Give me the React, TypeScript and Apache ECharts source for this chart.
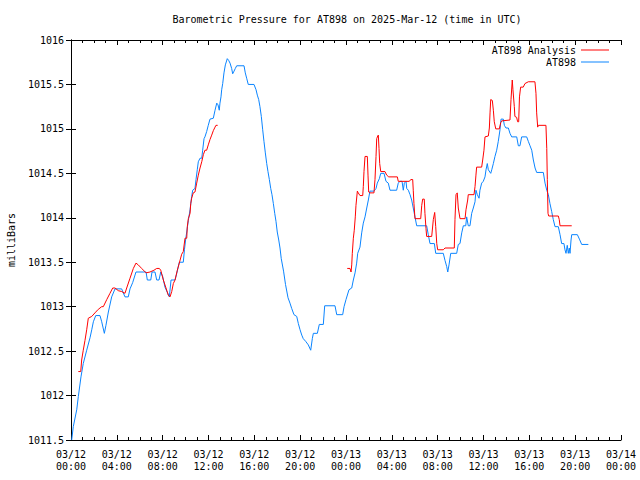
import React, { useEffect, useRef } from "react";
import * as echarts from "echarts";

// hours since 2025-03-12 00:00 UTC, pressure in mb
const at898Obs: [number, number][] = [
  [0.06, 1011.5], [0.2, 1011.65], [0.5, 1011.84], [0.64, 1011.99], [0.87, 1012.21], [1.07, 1012.36],
  [1.37, 1012.51], [1.66, 1012.65], [1.81, 1012.74], [1.95, 1012.83], [2.16, 1012.9], [2.53, 1012.9],
  [2.68, 1012.83], [2.91, 1012.7], [3.05, 1012.79], [3.26, 1012.94], [3.55, 1013.11], [3.84, 1013.2],
  [4.42, 1013.2], [4.71, 1013.11], [5.0, 1013.11], [5.15, 1013.2], [5.38, 1013.27], [5.67, 1013.39],
  [6.55, 1013.39], [6.66, 1013.3], [6.96, 1013.3], [7.07, 1013.39], [7.33, 1013.39], [7.48, 1013.3],
  [7.68, 1013.3], [7.83, 1013.39], [8.0, 1013.34], [8.2, 1013.22], [8.58, 1013.11], [8.73, 1013.3],
  [9.08, 1013.3], [9.22, 1013.37], [9.45, 1013.5], [9.8, 1013.5], [9.9, 1013.64], [10.0, 1013.75],
  [10.1, 1013.84], [10.24, 1013.97], [10.39, 1014.09], [10.53, 1014.24], [10.62, 1014.31], [10.82, 1014.33],
  [10.91, 1014.43], [11.02, 1014.54], [11.11, 1014.63], [11.26, 1014.67], [11.41, 1014.67], [11.49, 1014.76],
  [11.61, 1014.89], [11.69, 1014.91], [11.84, 1014.97], [11.98, 1015.04], [12.13, 1015.11], [12.42, 1015.12],
  [12.57, 1015.21], [12.72, 1015.29], [12.83, 1015.27], [12.94, 1015.21], [13.0, 1015.29], [13.09, 1015.36],
  [13.15, 1015.44], [13.24, 1015.51], [13.35, 1015.63], [13.47, 1015.72], [13.64, 1015.79], [13.76, 1015.77],
  [13.88, 1015.74], [14.02, 1015.68], [14.11, 1015.62], [14.23, 1015.65], [14.34, 1015.68], [14.46, 1015.71],
  [15.1, 1015.71], [15.21, 1015.63], [15.33, 1015.57], [15.47, 1015.5], [15.97, 1015.5], [16.15, 1015.44],
  [16.26, 1015.38], [16.38, 1015.33], [16.49, 1015.25], [16.61, 1015.14], [16.73, 1014.99], [16.84, 1014.86],
  [16.96, 1014.73], [17.08, 1014.61], [17.19, 1014.52], [17.31, 1014.43], [17.43, 1014.33], [17.54, 1014.26],
  [17.66, 1014.16], [17.78, 1014.05], [17.89, 1013.96], [18.0, 1013.84], [18.13, 1013.75], [18.24, 1013.66],
  [18.35, 1013.54], [18.55, 1013.4], [18.72, 1013.25], [18.94, 1013.1], [19.11, 1013.04], [19.26, 1012.98],
  [19.46, 1012.91], [19.7, 1012.89], [19.84, 1012.81], [19.99, 1012.74], [20.14, 1012.68], [20.27, 1012.64],
  [20.48, 1012.61], [20.71, 1012.57], [20.92, 1012.51], [21.06, 1012.64], [21.15, 1012.7], [21.5, 1012.7],
  [21.67, 1012.8], [22.02, 1012.8], [22.14, 1013.01], [23.04, 1013.01], [23.19, 1012.91], [23.71, 1012.91],
  [23.83, 1013.0], [24.0, 1013.08], [24.26, 1013.19], [24.5, 1013.21], [24.64, 1013.3], [24.79, 1013.38],
  [24.93, 1013.49], [25.02, 1013.6], [25.22, 1013.67], [25.37, 1013.83], [25.51, 1013.94], [25.66, 1014.01],
  [25.81, 1014.11], [25.95, 1014.2], [26.09, 1014.3], [26.44, 1014.3], [26.62, 1014.33], [26.73, 1014.39],
  [26.91, 1014.44], [27.03, 1014.5], [27.32, 1014.5], [27.49, 1014.41], [27.69, 1014.39], [27.84, 1014.31],
  [28.42, 1014.31], [28.56, 1014.39], [28.71, 1014.41], [28.89, 1014.41], [29.0, 1014.31], [29.09, 1014.39],
  [29.24, 1014.41], [29.3, 1014.33], [29.44, 1014.31], [29.59, 1014.26], [29.73, 1014.2], [29.87, 1014.11],
  [30.02, 1014.01], [30.17, 1013.91], [31.04, 1013.91], [31.18, 1013.81], [31.33, 1013.71], [31.71, 1013.71],
  [31.83, 1013.6], [32.49, 1013.6], [32.64, 1013.52], [32.79, 1013.45], [32.88, 1013.39], [32.99, 1013.47],
  [33.14, 1013.6], [33.66, 1013.6], [33.8, 1013.7], [33.95, 1013.71], [34.1, 1013.83], [34.24, 1013.91],
  [34.45, 1013.91], [34.53, 1014.01], [34.67, 1013.91], [34.82, 1013.91], [34.97, 1014.05], [35.11, 1014.11],
  [35.26, 1014.18], [35.34, 1014.31], [35.46, 1014.26], [35.61, 1014.22], [35.69, 1014.31], [35.84, 1014.39],
  [35.98, 1014.41], [36.13, 1014.46], [36.22, 1014.54], [36.33, 1014.61], [36.42, 1014.54], [36.63, 1014.5],
  [36.72, 1014.54], [36.86, 1014.61], [37.0, 1014.69], [37.15, 1014.76], [37.29, 1014.86], [37.44, 1014.99],
  [37.53, 1015.11], [37.73, 1015.11], [37.82, 1015.04], [37.96, 1015.01], [38.17, 1015.01], [38.31, 1014.95],
  [38.46, 1014.91], [38.9, 1014.91], [39.04, 1014.81], [39.18, 1014.81], [39.33, 1014.91], [39.77, 1014.91],
  [39.91, 1014.86], [40.06, 1014.81], [40.21, 1014.76], [40.35, 1014.65], [40.5, 1014.56], [40.64, 1014.51],
  [41.22, 1014.51], [41.37, 1014.39], [41.52, 1014.31], [41.66, 1014.26], [41.8, 1014.16], [41.95, 1014.07],
  [42.09, 1013.98], [42.24, 1013.9], [42.53, 1013.9], [42.68, 1013.81], [42.82, 1013.71], [43.02, 1013.71],
  [43.11, 1013.64], [43.2, 1013.6], [43.31, 1013.69], [43.4, 1013.6], [43.49, 1013.66], [43.55, 1013.6],
  [43.64, 1013.75], [43.7, 1013.81], [44.19, 1013.81], [44.37, 1013.76], [44.57, 1013.7], [45.15, 1013.7],
];

const at898Analysis: [number, number | null][] = [
  [0.64, 1012.27], [0.85, 1012.27], [0.93, 1012.4], [1.07, 1012.51], [1.22, 1012.62], [1.37, 1012.74],
  [1.51, 1012.87], [1.81, 1012.89], [2.09, 1012.93], [2.38, 1012.97], [2.68, 1013.0], [2.82, 1013.0],
  [3.12, 1013.08], [3.4, 1013.15], [3.64, 1013.21], [3.84, 1013.21], [4.13, 1013.18], [4.42, 1013.17],
  [4.71, 1013.15], [4.86, 1013.21], [5.15, 1013.32], [5.44, 1013.43], [5.67, 1013.49], [5.87, 1013.47],
  [6.17, 1013.43], [6.55, 1013.38], [6.89, 1013.39], [7.24, 1013.41], [7.48, 1013.43], [7.71, 1013.43],
  [7.83, 1013.41], [8.06, 1013.3], [8.29, 1013.21], [8.49, 1013.13], [8.64, 1013.11], [8.79, 1013.17],
  [8.93, 1013.26], [9.08, 1013.3], [9.28, 1013.41], [9.45, 1013.49], [9.66, 1013.59], [9.8, 1013.62],
  [9.95, 1013.77], [10.1, 1013.77], [10.15, 1013.9], [10.24, 1013.99], [10.39, 1014.05], [10.45, 1014.16],
  [10.53, 1014.22], [10.67, 1014.28], [10.82, 1014.29], [10.97, 1014.39], [11.11, 1014.48], [11.26, 1014.56],
  [11.41, 1014.63], [11.55, 1014.71], [11.69, 1014.76], [11.84, 1014.76], [11.98, 1014.82], [12.13, 1014.88],
  [12.28, 1014.93], [12.42, 1014.98], [12.57, 1015.02], [12.65, 1015.04], [12.8, 1015.04],
  [18.0, null],
  [24.11, 1013.43], [24.35, 1013.43], [24.44, 1013.39], [24.5, 1013.47], [24.55, 1013.6], [24.64, 1013.77],
  [24.72, 1013.86], [24.81, 1014.01], [24.87, 1014.14], [24.99, 1014.3], [25.07, 1014.28], [25.22, 1014.25],
  [25.46, 1014.25], [25.51, 1014.35], [25.57, 1014.52], [25.66, 1014.69], [25.86, 1014.69], [25.92, 1014.48],
  [25.98, 1014.29], [26.09, 1014.28], [26.44, 1014.28], [26.53, 1014.43], [26.62, 1014.69], [26.68, 1014.89],
  [26.77, 1014.92], [26.82, 1014.93], [26.88, 1014.78], [26.94, 1014.61], [27.03, 1014.52], [27.4, 1014.52],
  [27.55, 1014.48], [27.73, 1014.46], [28.48, 1014.46], [28.56, 1014.41], [29.53, 1014.41], [29.65, 1014.43],
  [29.82, 1014.43], [29.87, 1014.31], [29.93, 1014.16], [30.02, 1013.99], [30.52, 1013.99], [30.61, 1014.14],
  [30.69, 1014.21], [30.83, 1014.21], [30.89, 1014.05], [30.98, 1013.88], [31.04, 1013.79], [31.48, 1013.79],
  [31.62, 1013.98], [31.74, 1014.06], [31.83, 1013.9], [31.92, 1013.71], [32.0, 1013.64], [32.49, 1013.64],
  [32.64, 1013.66], [33.45, 1013.66], [33.51, 1013.98], [33.6, 1014.26], [33.71, 1014.28], [33.8, 1014.11],
  [33.95, 1013.99], [34.39, 1013.99], [34.47, 1014.09], [34.62, 1014.2], [34.67, 1014.26], [35.17, 1014.26],
  [35.26, 1014.35], [35.34, 1014.48], [35.4, 1014.57], [35.84, 1014.57], [35.93, 1014.65], [36.04, 1014.76],
  [36.13, 1014.91], [36.42, 1014.92], [36.51, 1015.01], [36.57, 1015.18], [36.63, 1015.33], [36.77, 1015.32],
  [36.86, 1015.21], [36.94, 1015.08], [37.07, 1015.0], [37.38, 1015.0], [37.5, 1015.07], [37.59, 1015.09],
  [38.31, 1015.1], [38.4, 1015.33], [38.51, 1015.55], [38.57, 1015.44], [38.69, 1015.25], [38.74, 1015.14],
  [38.89, 1015.13], [38.98, 1015.08], [39.07, 1015.08], [39.14, 1015.36], [39.24, 1015.47], [39.47, 1015.47],
  [39.62, 1015.51], [39.91, 1015.53], [40.49, 1015.53], [40.58, 1015.4], [40.64, 1015.18], [40.73, 1015.02],
  [40.78, 1015.04], [41.45, 1015.04], [41.52, 1014.78], [41.57, 1014.43], [41.63, 1014.05], [41.69, 1014.02],
  [42.53, 1014.02], [42.61, 1013.98], [42.68, 1013.91], [43.7, 1013.91],
];

const xTickLabels = [
  "03/12\n00:00", "03/12\n04:00", "03/12\n08:00", "03/12\n12:00", "03/12\n16:00", "03/12\n20:00",
  "03/13\n00:00", "03/13\n04:00", "03/13\n08:00", "03/13\n12:00", "03/13\n16:00", "03/13\n20:00",
  "03/14\n00:00",
];
const yTickLabels = ["1011.5", "1012", "1012.5", "1013", "1013.5", "1014", "1014.5", "1015", "1015.5", "1016"];

const titleText = "Barometric Pressure for AT898 on 2025-Mar-12 (time in UTC)";
const yAxisTitle = "milliBars";
const seriesNames = ["AT898 Analysis", "AT898"];
const seriesColors = ["#ff0000", "#0a84ff"];

const FONT = "DejaVu Sans Mono";

export default function App() {
  const ref = useRef<HTMLDivElement>(null);
  useEffect(() => {
    document.body.style.margin = "0";
    if (!ref.current) return;
    const chart = echarts.init(ref.current, undefined, { renderer: "svg" });
    const axisLine = { show: true, lineStyle: { color: "#000", width: 1 } };
    const xBase = {
      type: "value" as const,
      min: 0,
      max: 48,
      interval: 4,
      axisLine,
      axisTick: { show: true, inside: true, length: 5, lineStyle: { color: "#000" } },
      minorTick: { show: true, splitNumber: 4, length: 3, lineStyle: { color: "#000" } },
      splitLine: { show: false },
    };
    const yBase = {
      type: "value" as const,
      min: 1011.5,
      max: 1016,
      interval: 0.5,
      axisLine,
      axisTick: { show: true, inside: true, length: 5, lineStyle: { color: "#000" } },
      splitLine: { show: false },
    };
    const legendBase = {
      right: 26,
      align: "right" as const,
      icon: "rect",
      itemWidth: 28,
      itemHeight: 1,
      textStyle: { fontFamily: FONT, fontSize: 10, color: "#000" },
    };
    chart.setOption({
      animation: false,
      backgroundColor: "#fff",
      textStyle: { fontFamily: FONT },
      grid: { left: 71, right: 19, top: 40, bottom: 40 },
      title: {
        text: titleText,
        left: 342,
        top: 9,
        textAlign: "center",
        textStyle: { fontFamily: FONT, fontSize: 10, fontWeight: "normal", color: "#000" },
      },
      graphic: [
        {
          type: "text",
          x: 11,
          y: 240,
          rotation: Math.PI / 2,
          style: {
            text: yAxisTitle,
            fontFamily: FONT,
            fontSize: 10,
            fill: "#000",
            align: "center",
            verticalAlign: "middle",
          },
        },
      ],
      legend: [
        { ...legendBase, data: [seriesNames[0]], top: 40 },
        { ...legendBase, data: [seriesNames[1]], top: 52 },
      ],
      xAxis: [
        {
          ...xBase,
          position: "bottom",
          axisLabel: {
            show: true,
            margin: 8,
            fontFamily: FONT,
            fontSize: 10,
            lineHeight: 12,
            color: "#000",
            formatter: (v: number) => xTickLabels[Math.round(v / 4)] ?? "",
          },
        },
        { ...xBase, position: "top", axisLabel: { show: false } },
      ],
      yAxis: [
        {
          ...yBase,
          position: "left",
          axisLabel: {
            show: true,
            margin: 7,
            fontFamily: FONT,
            fontSize: 10,
            color: "#000",
            formatter: (v: number) => yTickLabels[Math.round((v - 1011.5) / 0.5)] ?? "",
          },
        },
        { ...yBase, position: "right", axisLabel: { show: false } },
      ],
      series: [
        {
          name: seriesNames[0],
          type: "line",
          data: at898Analysis,
          showSymbol: false,
          connectNulls: false,
          color: seriesColors[0],
          lineStyle: { width: 1, color: seriesColors[0] },
          z: 3,
        },
        {
          name: seriesNames[1],
          type: "line",
          data: at898Obs,
          showSymbol: false,
          color: seriesColors[1],
          lineStyle: { width: 1, color: seriesColors[1] },
          z: 2,
        },
      ],
    });
    return () => chart.dispose();
  }, []);
  return <div ref={ref} style={{ width: 640, height: 480 }} />;
}
